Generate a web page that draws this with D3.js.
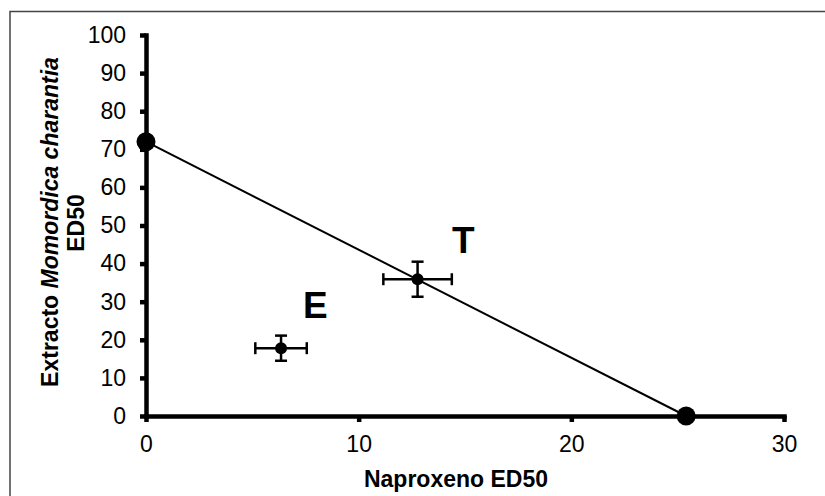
<!DOCTYPE html>
<html lang="es">
<head>
    <meta charset="UTF-8">
    <title>Isobolograma Naproxeno / Momordica charantia</title>
    <script src="https://d3js.org/d3.v7.min.js"></script>
    <style>
        body {
            margin: 0;
            background-color: #ffffff;
            font-family: "Liberation Sans", Arial, sans-serif;
        }
        .axis path, .axis line {
            stroke: #000;
            stroke-width: 4.5;
        }
        .axis text {
            font-size: 23px;
            fill: #000;
        }
        .axis-title {
            font-size: 23px;
            font-weight: bold;
        }
        .point-label {
            font-size: 37px;
            font-weight: bold;
        }
    </style>
</head>
<body>
    <svg width="825" height="496"></svg>
    <script>
        // Data
        const xTicks = [0, 10, 20, 30];
        const yTicks = [0, 10, 20, 30, 40, 50, 60, 70, 80, 90, 100];

        // ED50 de cada fármaco solo (extremos de la línea de aditividad)
        const edNaproxeno = 25.4;
        const edExtracto = 72;

        // puntos experimental (E) y teórico (T), con error
        const pointNames = ["E", "T"];
        const pointX = [6.35, 12.77];
        const pointY = [17.8, 35.9];
        const pointXErr = [1.21, 1.61];
        const pointYErr = [3.3, 4.6];

        // posición de las letras en unidades de los ejes
        const labelX = [7.38, 14.39];
        const labelY = [25.7, 42.8];

        const svg = d3.select("svg");

        // marco del gráfico
        svg.append("rect")
           .attr("x", 10)
           .attr("y", 11.5)
           .attr("width", 830)
           .attr("height", 500)
           .attr("fill", "none")
           .attr("stroke", "#444")
           .attr("stroke-width", 1.5);

        const x = d3.scaleLinear().domain([0, 30]).range([146, 784]);
        const y = d3.scaleLinear().domain([0, 100]).range([416, 35]);

        // ejes
        svg.append("g")
           .attr("class", "axis")
           .attr("transform", `translate(0,${y(0)})`)
           .call(d3.axisBottom(x)
                   .tickValues(xTicks)
                   .tickSize(6)
                   .tickSizeOuter(0)
                   .tickPadding(14));

        svg.append("g")
           .attr("class", "axis")
           .attr("transform", `translate(${x(0)},0)`)
           .call(d3.axisLeft(y)
                   .tickValues(yTicks)
                   .tickSize(6)
                   .tickSizeOuter(0)
                   .tickPadding(14));

        svg.selectAll(".axis path").attr("stroke-linecap", "square");

        // línea de aditividad
        svg.append("line")
           .attr("x1", x(0))
           .attr("y1", y(edExtracto))
           .attr("x2", x(edNaproxeno))
           .attr("y2", y(0))
           .attr("stroke", "#000")
           .attr("stroke-width", 2);

        svg.selectAll(".end-dot")
           .data([[0, edExtracto], [edNaproxeno, 0]])
           .enter()
           .append("circle")
           .attr("class", "end-dot")
           .attr("cx", d => x(d[0]))
           .attr("cy", d => y(d[1]))
           .attr("r", 9.5)
           .attr("fill", "#000");

        // barras de error
        const points = pointNames.map((n, i) => ({
            name: n, x: pointX[i], y: pointY[i], ex: pointXErr[i], ey: pointYErr[i],
            lx: labelX[i], ly: labelY[i]
        }));

        const cap = 6;
        const eb = svg.selectAll(".errbar")
                      .data(points)
                      .enter()
                      .append("g")
                      .attr("class", "errbar")
                      .attr("stroke", "#000")
                      .attr("stroke-width", 2.5);

        eb.append("line")
          .attr("x1", d => x(d.x - d.ex)).attr("x2", d => x(d.x + d.ex))
          .attr("y1", d => y(d.y)).attr("y2", d => y(d.y));
        eb.append("line")
          .attr("x1", d => x(d.x)).attr("x2", d => x(d.x))
          .attr("y1", d => y(d.y - d.ey)).attr("y2", d => y(d.y + d.ey));
        eb.append("line")
          .attr("x1", d => x(d.x - d.ex)).attr("x2", d => x(d.x - d.ex))
          .attr("y1", d => y(d.y) - cap).attr("y2", d => y(d.y) + cap);
        eb.append("line")
          .attr("x1", d => x(d.x + d.ex)).attr("x2", d => x(d.x + d.ex))
          .attr("y1", d => y(d.y) - cap).attr("y2", d => y(d.y) + cap);
        eb.append("line")
          .attr("x1", d => x(d.x) - cap).attr("x2", d => x(d.x) + cap)
          .attr("y1", d => y(d.y + d.ey)).attr("y2", d => y(d.y + d.ey));
        eb.append("line")
          .attr("x1", d => x(d.x) - cap).attr("x2", d => x(d.x) + cap)
          .attr("y1", d => y(d.y - d.ey)).attr("y2", d => y(d.y - d.ey));

        svg.selectAll(".pt")
           .data(points)
           .enter()
           .append("circle")
           .attr("class", "pt")
           .attr("cx", d => x(d.x))
           .attr("cy", d => y(d.y))
           .attr("r", 6)
           .attr("fill", "#000");

        svg.selectAll(".point-label")
           .data(points)
           .enter()
           .append("text")
           .attr("class", "point-label")
           .attr("x", d => x(d.lx))
           .attr("y", d => y(d.ly))
           .text(d => d.name);

        // títulos de ejes
        svg.append("text")
           .attr("class", "axis-title")
           .attr("x", 456)
           .attr("y", 487)
           .attr("text-anchor", "middle")
           .text("Naproxeno ED50");

        const yTitle = svg.append("text")
                          .attr("class", "axis-title")
                          .attr("transform", "translate(58,222) rotate(-90)")
                          .attr("text-anchor", "middle");
        yTitle.append("tspan").text("Extracto ");
        yTitle.append("tspan").style("font-style", "italic").text("Momordica charantia");

        svg.append("text")
           .attr("class", "axis-title")
           .attr("transform", "translate(84,223) rotate(-90)")
           .attr("text-anchor", "middle")
           .text("ED50");
    </script>
</body>
</html>
